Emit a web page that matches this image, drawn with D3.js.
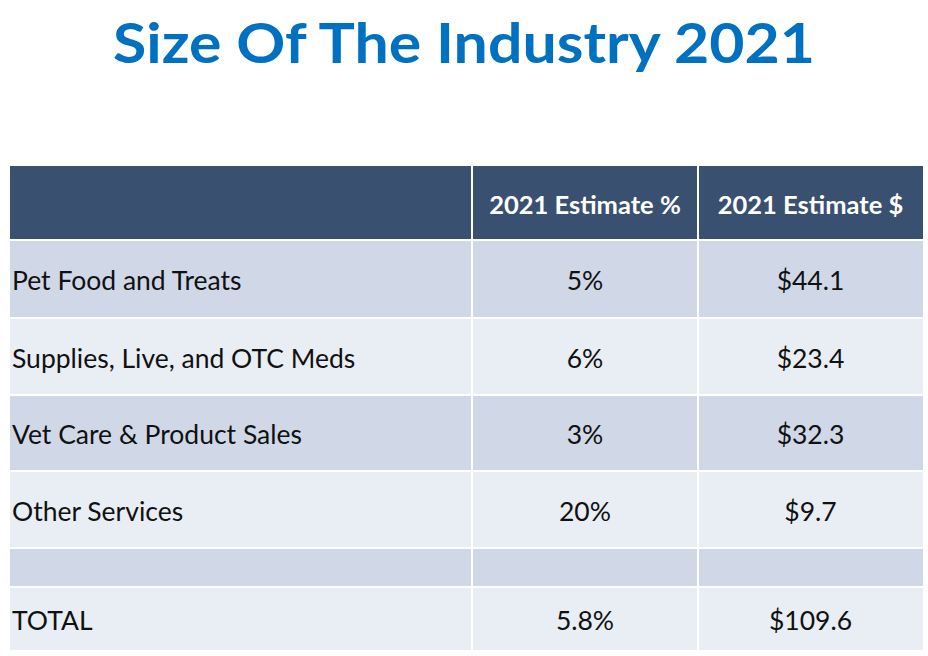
<!DOCTYPE html>
<html>
<head>
<meta charset="utf-8">
<script src="https://cdn.jsdelivr.net/npm/d3@7"></script>
<style>
  html, body { margin: 0; padding: 0; background: #ffffff; }
  svg { display: block; }
</style>
</head>
<body>
<svg id="chart" width="928" height="656"></svg>
<script>
const title = "Size Of The Industry 2021";
const columns = ["", "2021 Estimate %", "2021 Estimate $"];
const categories = ["Pet Food and Treats", "Supplies, Live, and OTC Meds", "Vet Care & Product Sales", "Other Services", "", "TOTAL"];
const estimatePct = ["5%", "6%", "3%", "20%", "", "5.8%"];
const estimateUsd = ["$44.1", "$23.4", "$32.3", "$9.7", "", "$109.6"];

const svg = d3.select("#chart");
const font = "Lato, 'Open Sans', sans-serif";

// Title
svg.append("text")
  .attr("x", 464).attr("y", 63)
  .attr("text-anchor", "middle")
  .attr("font-family", font)
  .attr("font-weight", 700)
  .attr("font-size", 56)
  .attr("fill", "#0070C0")
  .attr("textLength", 702)
  .attr("lengthAdjust", "spacingAndGlyphs")
  .text(title);

// Layout
const colEdges = [10, 472, 698, 923];
const rowHeights = [74, 78, 77, 76, 77, 39, 63];
const rowTops = [166];
rowHeights.forEach((h, i) => rowTops.push(rowTops[i] + h));

const rows = [columns].concat(categories.map((c, i) => [c, estimatePct[i], estimateUsd[i]]));
const fills = ["#3A5070", "#D0D8E8", "#E9EDF4", "#D0D8E8", "#E9EDF4", "#D0D8E8", "#E9EDF4"];

const g = svg.append("g");
rows.forEach((row, r) => {
  const y0 = rowTops[r];
  const h = rowHeights[r];
  row.forEach((cell, c) => {
    const x0 = colEdges[c];
    const x1 = colEdges[c + 1];
    g.append("rect")
      .attr("x", x0 + (c > 0 ? 1 : 0))
      .attr("y", y0 + (r > 0 ? 1 : 0))
      .attr("width", x1 - x0 - (c > 0 ? 1 : 0) - (c < 2 ? 1 : 0))
      .attr("height", h - (r > 0 ? 1 : 0) - (r < rows.length - 1 ? 1 : 0))
      .attr("fill", fills[r]);
    if (cell) {
      const isHeader = r === 0;
      g.append("text")
        .attr("x", c === 0 ? x0 + 2 : (x0 + x1) / 2)
        .attr("y", y0 + h / 2 + 2)
        .attr("dy", "0.35em")
        .attr("text-anchor", c === 0 ? "start" : "middle")
        .attr("font-family", font)
        .attr("font-weight", isHeader ? 700 : 400)
        .attr("font-size", isHeader ? 25.5 : 26.5)
        .attr("fill", isHeader ? "#ffffff" : "#111111")
        .text(cell);
    }
  });
});
</script>
</body>
</html>
